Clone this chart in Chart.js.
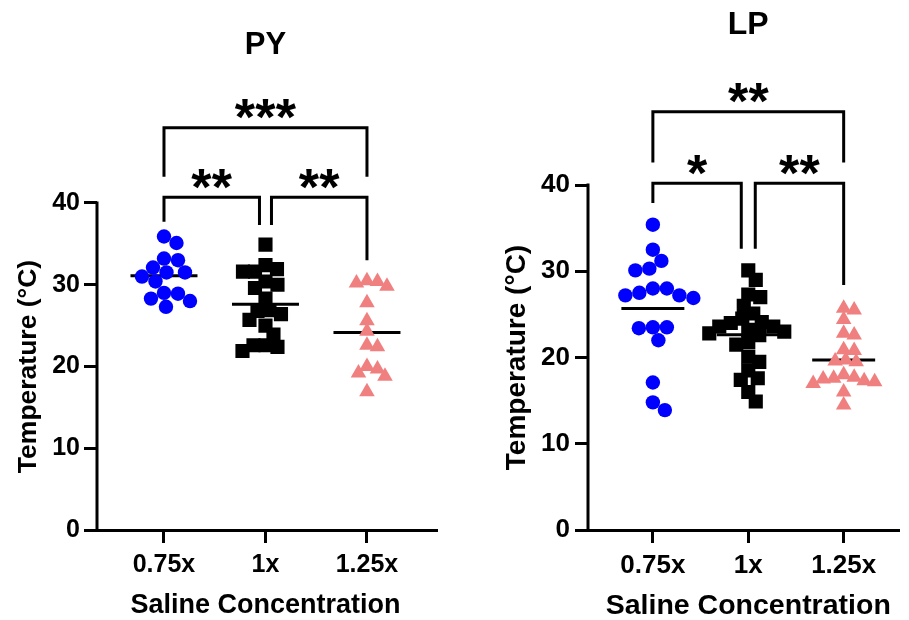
<!DOCTYPE html>
<html>
<head>
<meta charset="utf-8">
<script src="https://cdn.jsdelivr.net/npm/chart.js@4.4.0/dist/chart.umd.min.js"></script>
<style>
  html, body { margin: 0; padding: 0; background: #fff; overflow: hidden; }
  .panel { position: absolute; top: 0; }
  #pyWrap { left: 0; }
  #lpWrap { left: 450px; }
</style>
</head>
<body>
<div class="panel" id="pyWrap"><canvas id="pyChart" width="450" height="625"></canvas></div>
<div class="panel" id="lpWrap"><canvas id="lpChart" width="459" height="625"></canvas></div>
<script>
// Temperature per saline concentration, two sites (PY, LP)

const categories = ['0.75x', '1x', '1.25x'];
const yTicks = [0, 10, 20, 30, 40];

// PY
const pyLowSaline = [35.9, 35.1, 33.2, 33.0, 32.1, 31.5, 31.5, 31.0, 30.4, 29.0, 28.9, 28.3, 28.0, 27.3];
const pyNormalSaline = [34.9, 32.4, 31.9, 31.6, 31.6, 30.4, 30.0, 29.6, 28.3, 26.9, 26.8, 26.4, 25.7, 25.0, 23.9, 22.6, 22.6, 22.4, 21.9];
const pyHighSaline = [30.5, 30.4, 30.2, 29.8, 27.8, 25.6, 24.3, 22.6, 22.4, 20.0, 19.7, 19.2, 18.8, 16.9];
// [group a, group b, bar level, leg end at a, leg end at b, stars]
const pyComparisons = [
    [1, 3, 49.2, 43.2, 43.2, '***'],
    [1, 2, 40.7, 37.7, 37.3, '**'],
    [2, 3, 40.7, 37.3, 33.0, '**']
];

// LP
const lpLowSaline = [35.4, 32.5, 31.2, 30.3, 30.1, 28.0, 28.0, 27.5, 27.2, 27.2, 26.9, 23.5, 23.5, 23.4, 22.0, 17.1, 14.8, 13.9];
const lpNormalSaline = [30.1, 29.0, 27.3, 27.0, 26.0, 25.1, 24.5, 24.1, 24.0, 23.6, 23.6, 23.2, 23.0, 22.8, 22.6, 21.8, 21.5, 20.1, 19.5, 18.5, 17.6, 17.4, 16.0, 14.9];
const lpHighSaline = [25.7, 25.5, 24.4, 22.8, 22.6, 20.9, 20.8, 19.7, 19.6, 19.5, 18.0, 17.7, 17.6, 17.5, 17.3, 17.2, 17.0, 16.0, 14.5];
const lpComparisons = [
    [1, 3, 48.5, 42.6, 42.6, '**'],
    [1, 2, 40.2, 37.9, 32.6, '*'],
    [2, 3, 40.2, 32.6, 28.4, '**']
];

const FONT = "'Liberation Sans', Arial, Helvetica, sans-serif";
const groupColors = ['#0000ff', '#000000', '#f08080'];
const markerStyles = ['circle', 'rect', 'triangle'];
const markerRadius = [7.2, 10, 9];
const swarmSpacing = [14, 12, 10.5];   // px kept between neighbouring marks
const meanHalfWidth = 0.33;

Chart.defaults.font.family = FONT;
Chart.defaults.color = '#000';

/**
 * Beeswarm: push each point sideways (in px) until it no longer overlaps the ones already placed.
 */
function swarmOffsets(values, ys, diameter) {
    const order = values.map((v, i) => i).sort((a, b) => values[b] - values[a]);
    const placed = [];
    const offsets = new Array(values.length).fill(0);
    order.forEach(i => {
        const py = ys.getPixelForValue(values[i]);
        for (let k = 0; k < 600; k++) {
            const dx = (k % 2 ? 1 : -1) * Math.ceil(k / 2) * 0.5;
            const hit = placed.some(p => (p.dx - dx) ** 2 + (p.py - py) ** 2 < diameter * diameter);
            if (!hit) {
                offsets[i] = dx;
                placed.push({ dx, py });
                break;
            }
        }
    });
    return offsets;
}

const panelPlugin = {
    id: 'panel',
    afterDraw(chart, args, o) {
        const ctx = chart.ctx;
        const xs = chart.scales.x;
        const ys = chart.scales.y;
        ctx.save();

        // y axis line only runs up to the top tick
        ctx.strokeStyle = '#000';
        ctx.lineWidth = 3;
        ctx.beginPath();
        ctx.moveTo(chart.chartArea.left, ys.getPixelForValue(yTicks[yTicks.length - 1]) - 1.5);
        ctx.lineTo(chart.chartArea.left, ys.getPixelForValue(0) + 1.5);
        ctx.stroke();

        ctx.fillStyle = '#000';
        ctx.textAlign = 'center';
        ctx.textBaseline = 'middle';
        const mid = xs.getPixelForValue(2);

        ctx.font = `bold ${o.titleSize}px ${FONT}`;
        ctx.fillText(o.title, mid, o.titleY);

        ctx.font = `bold ${o.xTitleSize}px ${FONT}`;
        ctx.fillText(o.xTitle, mid, o.xTitleY);

        ctx.save();
        ctx.translate(o.yTitleX, ys.getPixelForValue(20));
        ctx.rotate(-Math.PI / 2);
        ctx.font = `bold ${o.yTitleSize}px ${FONT}`;
        ctx.fillText(o.yTitle, 0, 0);
        ctx.restore();

        // significance stars above each bracket
        ctx.font = `bold ${o.starSize}px ${FONT}`;
        ctx.textBaseline = 'alphabetic';
        (chart.$brackets || []).forEach(b => {
            const cx = (b.x1 + b.x2) / 2;
            const cy = b.y - o.starLift;
            const n = b.label.length;
            for (let k = 0; k < n; k++) {
                ctx.fillText('*', cx + (k - (n - 1) / 2) * o.starGap, cy + o.starSize * 0.57);
            }
        });
        ctx.restore();
    }
};

function buildPanel(p) {
    const datasets = [];
    p.groups.forEach((vals, g) => {
        datasets.push({
            data: vals.map(v => ({ x: g + 1, y: v })),
            pointStyle: markerStyles[g],
            pointRadius: markerRadius[g],
            backgroundColor: groupColors[g],
            borderWidth: 0,
            order: 0
        });
        const mean = vals.reduce((a, b) => a + b, 0) / vals.length;
        datasets.push({
            data: [{ x: g + 1 - meanHalfWidth, y: mean }, { x: g + 1 + meanHalfWidth, y: mean }],
            showLine: true,
            borderColor: '#000',
            borderWidth: 3,
            pointRadius: 0,
            order: 1
        });
    });
    p.comparisons.forEach(() => {
        datasets.push({
            data: [],
            showLine: true,
            borderColor: '#000',
            borderWidth: 3,
            borderJoinStyle: 'miter',
            pointRadius: 0,
            order: 0,
            clip: false
        });
    });

    const chart = new Chart(document.getElementById(p.canvas), {
        type: 'scatter',
        data: { datasets },
        plugins: [panelPlugin],
        options: {
            responsive: false,
            animation: false,
            events: [],
            layout: { padding: p.padding },
            plugins: {
                legend: { display: false },
                tooltip: { enabled: false },
                panel: {
                    title: p.title, titleSize: p.titleSize, titleY: p.titleY,
                    xTitle: 'Saline Concentration', xTitleSize: p.xTitleSize, xTitleY: p.xTitleY,
                    yTitle: 'Temperature (°C)', yTitleSize: p.yTitleSize, yTitleX: p.yTitleX,
                    starSize: 52, starGap: 20.5, starLift: 22
                }
            },
            scales: {
                x: {
                    type: 'linear',
                    min: p.xMin,
                    max: p.xMax,
                    afterBuildTicks: s => { s.ticks = categories.map((c, i) => ({ value: i + 1 })); },
                    afterFit: s => { s.height = p.xAxisHeight; },
                    ticks: {
                        autoSkip: false,
                        maxRotation: 0,
                        padding: 7,
                        font: { size: p.tickSize, weight: 'bold' },
                        callback: (v, i) => categories[i]
                    },
                    grid: { drawOnChartArea: false, drawTicks: true, tickLength: 13, tickWidth: 3, tickColor: '#000' },
                    border: { display: true, color: '#000', width: 3 }
                },
                y: {
                    min: 0,
                    max: p.yMax,
                    afterBuildTicks: s => { s.ticks = yTicks.map(v => ({ value: v })); },
                    afterFit: s => { s.width = p.yAxisWidth; },
                    ticks: {
                        padding: p.yTickPad,
                        font: { size: p.tickSize, weight: 'bold' },
                        callback: v => String(v)
                    },
                    grid: { drawOnChartArea: false, drawTicks: true, tickLength: 13, tickWidth: 3, tickColor: '#000' },
                    border: { display: false }
                }
            }
        }
    });

    // spread the points sideways and lay out the brackets now that the scales exist
    const xs = chart.scales.x;
    const ys = chart.scales.y;
    const unit = xs.getPixelForValue(2) - xs.getPixelForValue(1);
    p.groups.forEach((vals, g) => {
        const offsets = swarmOffsets(vals, ys, swarmSpacing[g]);
        chart.data.datasets[g * 2].data = vals.map((v, i) => ({ x: g + 1 + offsets[i] / unit, y: v }));
    });
    const brackets = [];
    p.comparisons.forEach((c, k) => {
        const [a, b, bar, legA, legB, label] = c;
        const shared = grp => p.comparisons.some((o, j) => j !== k && o[2] === bar && (o[0] === grp || o[1] === grp));
        const xa = a + (shared(a) ? p.legInset / unit : 0);
        const xb = b - (shared(b) ? p.legInset / unit : 0);
        chart.data.datasets[p.groups.length * 2 + k].data = [
            { x: xa, y: legA }, { x: xa, y: bar }, { x: xb, y: bar }, { x: xb, y: legB }
        ];
        brackets.push({ x1: xs.getPixelForValue(xa), x2: xs.getPixelForValue(xb), y: ys.getPixelForValue(bar), label });
    });
    chart.$brackets = brackets;
    chart.update('none');
    return chart;
}

buildPanel({
    canvas: 'pyChart',
    groups: [pyLowSaline, pyNormalSaline, pyHighSaline],
    comparisons: pyComparisons,
    xMin: 0.34, xMax: 3.69, yMax: 54,
    padding: { top: 88.5, right: 13, left: 0, bottom: 0 },
    yAxisWidth: 97, xAxisHeight: 95, yTickPad: 4,
    tickSize: 25,
    title: 'PY', titleSize: 31, titleY: 45,
    xTitleSize: 27, xTitleY: 606,
    yTitleSize: 26.5, yTitleX: 29,
    legInset: 6
});

buildPanel({
    canvas: 'lpChart',
    groups: [lpLowSaline, lpNormalSaline, lpHighSaline],
    comparisons: lpComparisons,
    xMin: 0.32, xMax: 3.58, yMax: 52.5,
    padding: { top: 77.2, right: 0, left: 0, bottom: 0 },
    yAxisWidth: 138, xAxisHeight: 95, yTickPad: 5,
    tickSize: 26,
    title: 'LP', titleSize: 32, titleY: 25,
    xTitleSize: 28.5, xTitleY: 606,
    yTitleSize: 28, yTitleX: 67,
    legInset: 7
});
</script>
</body>
</html>
